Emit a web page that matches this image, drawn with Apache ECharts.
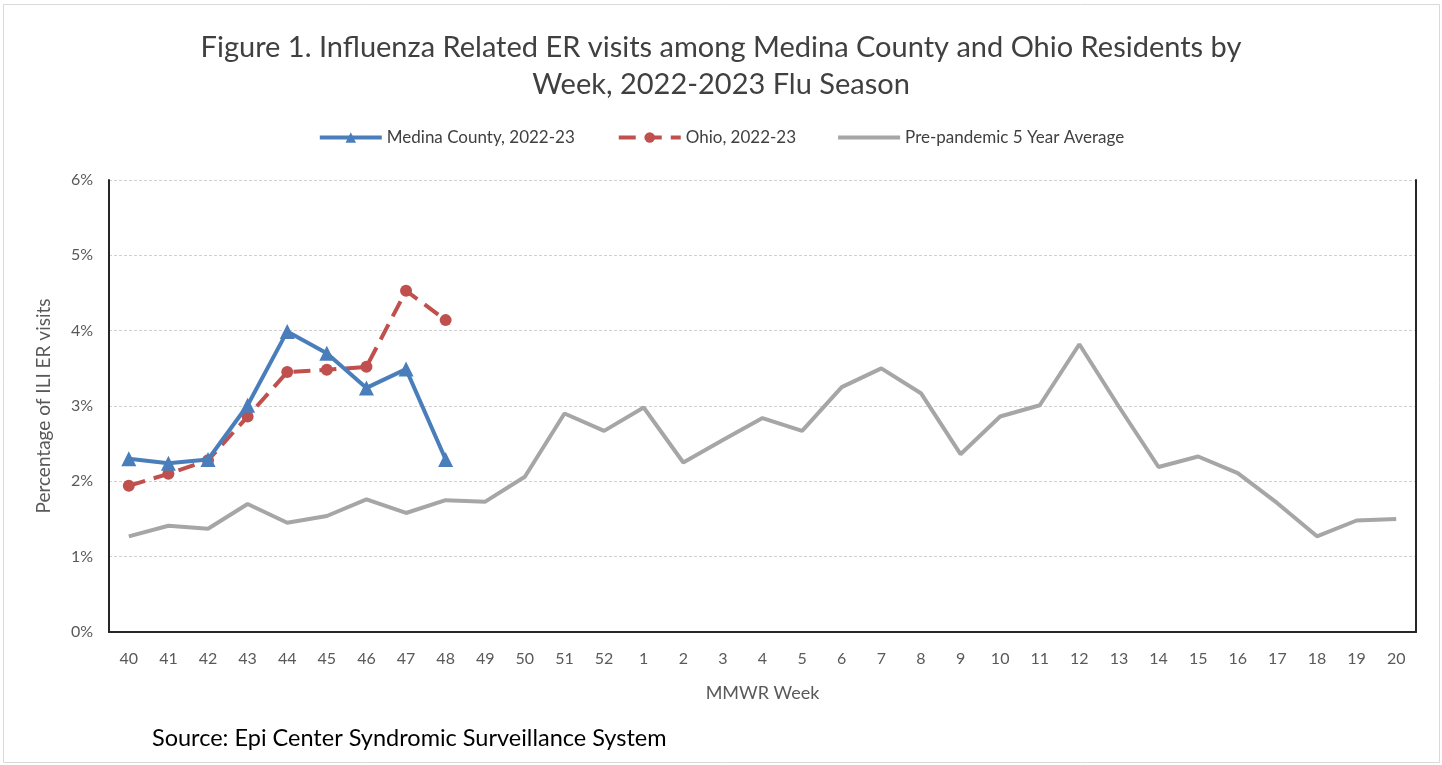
<!DOCTYPE html>
<html>
<head>
<meta charset="utf-8">
<title>Influenza Related ER visits</title>
<script src="https://cdn.jsdelivr.net/npm/echarts@6/dist/echarts.min.js"></script>
<style>
  html, body { margin: 0; padding: 0; background: #fff; }
  #chart { width: 1442px; height: 765px; }
</style>
</head>
<body>
<div id="chart"></div>
<script>
// MMWR weeks, season 2022-23
const weeks = ['40', '41', '42', '43', '44', '45', '46', '47', '48', '49', '50', '51', '52',
  '1', '2', '3', '4', '5', '6', '7', '8', '9', '10', '11', '12', '13', '14', '15', '16', '17', '18', '19', '20']

// values in percent
const medina = [2.30, 2.24, 2.29, 3.01, 3.99, 3.70, 3.24, 3.49, 2.29]
const ohio = [1.94, 2.10, 2.28, 2.86, 3.45, 3.48, 3.52, 4.53, 4.14]
const prePandemic = [1.27, 1.41, 1.37, 1.70, 1.45, 1.54, 1.76, 1.58, 1.75, 1.73, 2.06, 2.90, 2.67,
  2.98, 2.25, 2.55, 2.84, 2.67, 3.25, 3.50, 3.17, 2.36, 2.86, 3.01, 3.82, 2.99, 2.19, 2.33, 2.11, 1.71, 1.27, 1.48, 1.50]

const yTicks = [0, 1, 2, 3, 4, 5, 6]

const FONT = 'Lato, "Noto Sans", sans-serif'
const AXIS_TEXT = '#595959'

const chart = echarts.init(document.getElementById('chart'))

chart.setOption({
  backgroundColor: '#fff',
  animation: false,
  textStyle: { fontFamily: FONT },
  title: {
    text: 'Figure 1. Influenza Related ER visits among Medina County and Ohio Residents by\nWeek, 2022-2023 Flu Season',
    left: 'center',
    top: 24,
    textStyle: { fontFamily: FONT, fontSize: 29, fontWeight: 'normal', color: '#404040', lineHeight: 37 },
  },
  legend: {
    top: 124,
    left: 'center',
    itemWidth: 62,
    itemHeight: 13,
    itemGap: 42,
    lineStyle: { width: 4 },
    textStyle: { fontFamily: FONT, fontSize: 17, color: '#404040' },
    data: [
      'Medina County, 2022-23',
      'Ohio, 2022-23',
      { name: 'Pre-pandemic 5 Year Average', icon: 'path://M0,0 L62,0 L62,4 L0,4 Z' },
    ],
  },
  grid: { left: 109, right: 26, top: 180, bottom: 133 },
  xAxis: [
    {
      type: 'category',
      data: weeks,
      boundaryGap: true,
      name: 'MMWR Week',
      nameLocation: 'middle',
      nameGap: 52,
      nameTextStyle: { fontFamily: FONT, fontSize: 18, color: AXIS_TEXT },
      axisLine: { show: false },
      axisTick: { show: false },
      axisLabel: { interval: 0, margin: 19, fontSize: 16, color: AXIS_TEXT, fontFamily: FONT },
    },
    {
      type: 'category',
      data: weeks,
      position: 'top',
      axisLine: { show: true, lineStyle: { color: '#262626', width: 2 } },
      axisTick: { show: false },
      axisLabel: { show: false },
    },
  ],
  yAxis: [
    {
      type: 'value',
      min: yTicks[0],
      max: yTicks[yTicks.length - 1],
      interval: 1,
      name: 'Percentage of ILI ER visits',
      nameLocation: 'middle',
      nameGap: 56,
      nameTextStyle: { fontFamily: FONT, fontSize: 19, color: AXIS_TEXT },
      axisLine: { show: true, lineStyle: { color: '#262626', width: 2 } },
      axisTick: { show: false },
      axisLabel: { margin: 16, fontSize: 16, color: AXIS_TEXT, fontFamily: FONT, formatter: v => v + '%' },
      splitLine: { show: true, lineStyle: { color: '#d0d0d0', width: 1, type: [3, 2] } },
    },
    {
      type: 'value',
      position: 'right',
      min: yTicks[0],
      max: yTicks[yTicks.length - 1],
      interval: 1,
      axisLine: { show: true, lineStyle: { color: '#262626', width: 2 } },
      axisTick: { show: false },
      axisLabel: { show: false },
      splitLine: { show: false },
    },
  ],
  series: [
    {
      name: 'Pre-pandemic 5 Year Average',
      type: 'line',
      data: prePandemic,
      symbol: 'none',
      z: 1,
      itemStyle: { color: '#a6a6a6' },
      lineStyle: { color: '#a6a6a6', width: 4 },
    },
    {
      name: 'Ohio, 2022-23',
      type: 'line',
      data: ohio,
      symbol: 'circle',
      symbolSize: 12,
      z: 2,
      itemStyle: { color: '#c0504d' },
      lineStyle: { color: '#c0504d', width: 4, type: [17, 9] },
    },
    {
      name: 'Medina County, 2022-23',
      type: 'line',
      data: medina,
      symbol: 'triangle',
      symbolSize: 15,
      z: 3,
      itemStyle: { color: '#4a7ebb' },
      lineStyle: { color: '#4a7ebb', width: 4 },
    },
  ],
  graphic: [
    {
      type: 'rect',
      shape: { x: 3.5, y: 4.5, width: 1436, height: 758 },
      style: { fill: 'none', stroke: '#d9d9d9', lineWidth: 1 },
      silent: true,
    },
    {
      type: 'text',
      left: 152,
      top: 726,
      style: { text: 'Source: Epi Center Syndromic Surveillance System', fontFamily: FONT, fontSize: 23.5, fill: '#000' },
    },
  ],
})
</script>
</body>
</html>
